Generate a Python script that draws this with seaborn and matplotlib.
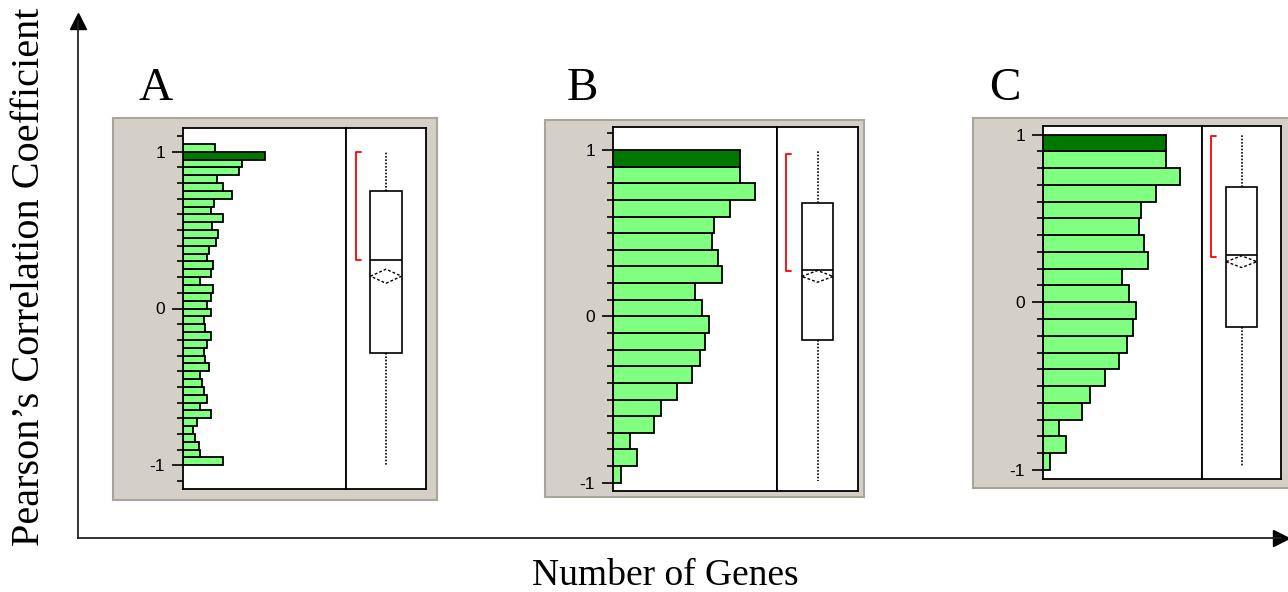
import numpy as np
import pandas as pd
import seaborn as sns
import matplotlib.pyplot as plt
from matplotlib.ticker import MultipleLocator

# %% Data

# bar lengths, listed from the top bin (highest correlation) down
a_counts = [95, 245, 177, 168, 103, 120, 147, 93, 83, 120, 88, 105, 100, 77, 72, 90, 83, 52, 90, 83, 72,
            83, 62, 67, 83, 73, 62, 67, 78, 52, 57, 62, 73, 52, 85, 42, 30, 35, 47, 52, 120]
b_counts = [382, 382, 427, 352, 304, 299, 315, 327, 247, 269, 290, 277, 263, 237, 193, 145, 122, 50, 73, 25]
c_counts = [372, 370, 412, 340, 294, 289, 304, 315, 238, 259, 279, 270, 253, 229, 187, 142, 117, 49, 70, 22]

# bin layout: (lowest edge, highest edge, width), and the highlighted bin centre
a_bins = (-1.0, 1.05, 0.05)
b_bins = (-1.0, 1.0, 0.1)
c_bins = (-1.0, 1.0, 0.1)
dark_bin = {"A": 0.975, "B": 0.95, "C": 0.95}

# outlier box plot summaries
box_stats = {
    "A": dict(whishi=1.0, q3=0.751, med=0.309, q1=-0.281, whislo=-0.996),
    "B": dict(whishi=1.0, q3=0.68, med=0.28, q1=-0.144, whislo=-0.99),
    "C": dict(whishi=0.997, q3=0.685, med=0.282, q1=-0.145, whislo=-0.98),
}
mean_ci = {"A": (0.206, 0.045), "B": (0.24, 0.035), "C": (0.242, 0.035)}
shortest_half = {"A": (0.309, 1.0), "B": (0.27, 0.974), "C": (0.272, 0.99)}

tick_values = [-1, 0, 1]
tick_labels = ["-1", "0", "1"]

# %% Figure setup

W, H = 1288, 592
sns.set_style("white")
fig = plt.figure(figsize=(W / 100, H / 100), dpi=100)

LIGHT = "#80ff80"
DARK = "#007800"
GRAY = "#d4d0c8"


def px_axes(x0, y0, x1, y1):
    return fig.add_axes([x0 / W, 1 - y1 / H, (x1 - x0) / W, (y1 - y0) / H])


# big outer axes with arrows
frame = px_axes(78, 20.5, 1280.5, 538)
frame.set_facecolor("none")
frame.set_xticks([])
frame.set_yticks([])
for s in ["top", "right"]:
    frame.spines[s].set_visible(False)
for s in ["left", "bottom"]:
    frame.spines[s].set_color("#222222")
    frame.spines[s].set_linewidth(1.3)
frame.plot(1, 0, ">", color="black", ms=11, transform=frame.transAxes, clip_on=False)
frame.plot(0, 1, "^", color="black", ms=11, transform=frame.transAxes, clip_on=False)

panels = [
    ("A", a_counts, a_bins, (113, 118, 437, 500), (183, 128, 346, 489), 426, (-1.152, 1.152), 488, 0.12),
    ("B", b_counts, b_bins, (545, 120, 864, 497), (613, 127, 777, 491), 858, (-1.05, 1.138), 494, 0.11),
    ("C", c_counts, c_bins, (973, 118, 1292, 488), (1043, 126, 1202, 479), 1281, (-1.054, 1.051), 479, 0.11),
]

for name, counts, (lo, hi, bw), bg_box, hist_box, box_right, ylim, xmax, bx in panels:
    # gray window background
    bg = px_axes(*bg_box)
    bg.set_facecolor(GRAY)
    bg.set_xticks([])
    bg.set_yticks([])
    for s in bg.spines.values():
        s.set_color("#a9a59d")
        s.set_linewidth(1.5)

    # histogram
    edges = [float(e) for e in np.round(np.arange(lo, hi + bw / 2, bw), 3)]
    centers = [round(e + bw / 2, 4) for e in edges[:-1]][::-1]
    df = pd.DataFrame({"r": centers, "n": counts})
    ax = px_axes(*hist_box)
    sns.histplot(data=df, y="r", weights="n", bins=edges, ax=ax, color=LIGHT,
                 edgecolor="black", linewidth=1.3, alpha=1)
    for p in ax.patches:
        y0 = p.get_y()
        if y0 < dark_bin[name] < y0 + p.get_height():
            p.set_facecolor(DARK)
    ax.set_facecolor("white")
    ax.set_xlim(0, xmax)
    ax.set_ylim(*ylim)
    ax.set_xlabel("")
    ax.set_ylabel("")
    ax.set_xticks([])
    ax.set_yticks(tick_values)
    ax.set_yticklabels(tick_labels, family="Liberation Sans", fontsize=12.5, color="black")
    ax.yaxis.set_minor_locator(MultipleLocator(0.1))
    ax.tick_params(axis="y", which="major", direction="out", length=8, width=1.2, pad=5,
                   left=True, color="black")
    ax.tick_params(axis="y", which="minor", direction="out", length=4.5, width=1.2,
                   left=True, color="black")
    for s in ax.spines.values():
        s.set_color("black")
        s.set_linewidth(1.3)

    # outlier box plot
    bax = px_axes(hist_box[2], hist_box[1], box_right, hist_box[3])
    bax.set_facecolor("white")
    st = dict(box_stats[name], fliers=[])
    bax.bxp([st], positions=[0.5], widths=[0.39], showcaps=False, showfliers=False,
            patch_artist=True, manage_ticks=False,
            boxprops=dict(facecolor="white", edgecolor="black", linewidth=1.2),
            medianprops=dict(color="black", linewidth=1.2),
            whiskerprops=dict(color="black", linestyle=(0, (1, 1)), linewidth=1.2))
    m, ci = mean_ci[name]
    hw = 0.39 / 2
    bax.plot([0.5 - hw, 0.5, 0.5 + hw, 0.5, 0.5 - hw], [m, m + ci, m, m - ci, m],
             color="black", linestyle=(0, (2, 1.5)), linewidth=1)
    sh_lo, sh_hi = shortest_half[name]
    bax.plot([bx + 0.065, bx, bx, bx + 0.065], [sh_hi, sh_hi, sh_lo, sh_lo], color="red", linewidth=1.3)
    bax.set_xlim(0, 1)
    bax.set_ylim(*ylim)
    bax.set_xticks([])
    bax.set_yticks([])
    for s in bax.spines.values():
        s.set_color("black")
        s.set_linewidth(1.3)

# panel letters and axis titles
serif = ["Liberation Serif", "DejaVu Serif"]
for letter, x in [("A", 155.5), ("B", 582), ("C", 1005)]:
    fig.text(x / W, 1 - 100 / H, letter, family=serif, fontsize=34, color="black",
             ha="center", va="baseline")

fig.text(665 / W, 1 - 585 / H, "Number of Genes", family=serif, fontsize=27, color="black",
         ha="center", va="baseline")
fig.text(30 / W, 1 - 277 / H, "Pearson\u2019s Correlation Coefficient", family=serif, fontsize=29,
         color="black", rotation=90, ha="center", va="center")

fig.savefig("out.png", dpi=100)
